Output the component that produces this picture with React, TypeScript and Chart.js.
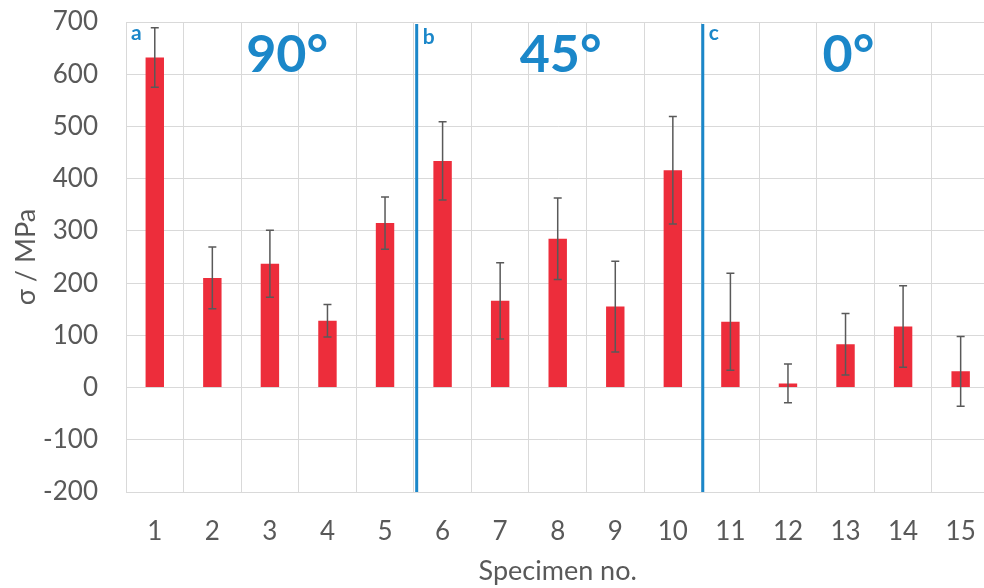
import React, { useEffect, useRef } from "react";
import { Chart, registerables } from "chart.js";

Chart.register(...registerables);

const categories = ["1", "2", "3", "4", "5", "6", "7", "8", "9", "10", "11", "12", "13", "14", "15"];
const stressValues = [632, 210, 237, 128, 315, 434, 166, 285, 155, 416, 126, 8, 83, 117, 31];
const stressErrors = [57, 59, 64, 31, 50, 75, 73, 78, 87, 103, 93, 37, 59, 78, 67];
const yTicksMin = -200;
const yTicksMax = 700;
const yStep = 100;
const groupLabels = ["90°", "45°", "0°"];
const panelLetters = ["a", "b", "c"];

const GREY = "#595959";
const GRID = "#d9d9d9";
const RED = "#ed2d3b";
const BLUE = "#1b87c9";
const FONT = "Lato, 'Open Sans', sans-serif";

const overlayPlugin = {
  id: "overlay",
  afterDatasetsDraw(chart: any) {
    const ctx = chart.ctx;
    const x = chart.scales.x;
    const y = chart.scales.y;
    const area = chart.chartArea;
    ctx.save();
    // error bars
    ctx.strokeStyle = GREY;
    ctx.lineWidth = 1.5;
    stressValues.forEach((v, i) => {
      const px = x.getPixelForValue(i);
      const top = y.getPixelForValue(v + stressErrors[i]);
      const bot = y.getPixelForValue(v - stressErrors[i]);
      ctx.beginPath();
      ctx.moveTo(px, top);
      ctx.lineTo(px, bot);
      ctx.moveTo(px - 4, top);
      ctx.lineTo(px + 4, top);
      ctx.moveTo(px - 4, bot);
      ctx.lineTo(px + 4, bot);
      ctx.stroke();
    });
    // separators
    ctx.strokeStyle = BLUE;
    ctx.lineWidth = 3;
    const seps = [x.getPixelForValue(4.55), x.getPixelForValue(9.52)];
    seps.forEach((sx) => {
      ctx.beginPath();
      ctx.moveTo(sx, area.top + 2);
      ctx.lineTo(sx, area.bottom);
      ctx.stroke();
    });
    // letters
    ctx.fillStyle = BLUE;
    ctx.font = `bold 21px ${FONT}`;
    ctx.textAlign = "left";
    ctx.textBaseline = "alphabetic";
    ctx.fillText(panelLetters[0], area.left + 5, area.top + 18);
    ctx.fillText(panelLetters[1], seps[0] + 6, area.top + 22);
    ctx.fillText(panelLetters[2], seps[1] + 6, area.top + 18);
    // group labels
    ctx.font = `bold 52px ${FONT}`;
    ctx.textAlign = "center";
    const groupPos = [2.3, 7.05, 12.05];
    groupLabels.forEach((t, i) => {
      ctx.fillText(t, x.getPixelForValue(groupPos[i]), area.top + 50);
    });
    ctx.restore();
  },
};

export default function App() {
  const ref = useRef<HTMLCanvasElement | null>(null);
  useEffect(() => {
    if (!ref.current) return;
    const chart = new Chart(ref.current, {
      type: "bar",
      data: {
        labels: categories,
        datasets: [
          {
            data: stressValues,
            backgroundColor: RED,
            borderWidth: 0,
            barPercentage: 0.32,
            categoryPercentage: 1,
          },
        ],
      },
      options: {
        responsive: false,
        animation: false,
        layout: { padding: { top: 22, right: 8, left: 0, bottom: 0 } },
        plugins: { legend: { display: false }, tooltip: { enabled: false } },
        scales: {
          x: {
            grid: { color: GRID, lineWidth: 1, drawTicks: false, offset: true },
            border: { color: GRID },
            ticks: { color: GREY, font: { family: FONT, size: 26 }, padding: 24 },
            title: {
              display: true,
              text: "Specimen no.",
              color: GREY,
              font: { family: FONT, size: 27 },
              padding: { top: 0, bottom: 1 },
            },
            afterFit(scale: any) {
              scale.height = 96;
            },
          },
          y: {
            min: yTicksMin,
            max: yTicksMax,
            grid: { color: GRID, lineWidth: 1, drawTicks: false },
            border: { color: GRID },
            ticks: { stepSize: yStep, color: GREY, font: { family: FONT, size: 26 }, padding: 28 },
            title: {
              display: true,
              text: "σ / MPa",
              color: GREY,
              font: { family: FONT, size: 27 },
              padding: { top: 10, bottom: 0 },
            },
            afterFit(scale: any) {
              scale.width = 126;
              scale.paddingTop = 0;
              scale.paddingBottom = 0;
            },
          },
        },
      },
      plugins: [overlayPlugin],
    });
    return () => chart.destroy();
  }, []);
  return (
    <div style={{ position: "absolute", left: 0, top: 0, width: 984, height: 588, overflow: "hidden", background: "#fff" }}>
      <canvas ref={ref} width={1000} height={588} style={{ width: 1000, height: 588, display: "block" }} />
    </div>
  );
}
